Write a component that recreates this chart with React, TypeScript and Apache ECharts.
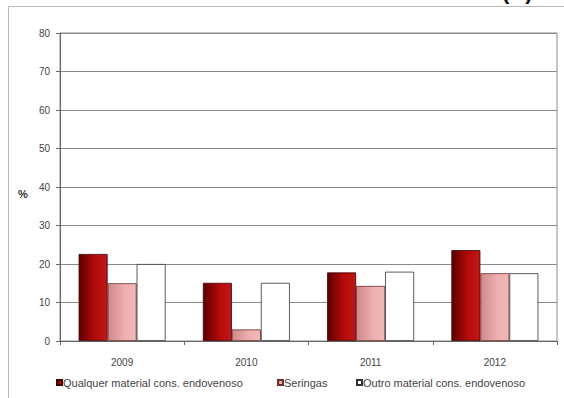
import React, { useEffect, useRef } from "react";
import * as echarts from "echarts";

const categories = ["2009", "2010", "2011", "2012"];
const seriesNames = [
  "Qualquer material cons. endovenoso",
  "Seringas",
  "Outro material cons. endovenoso",
];
const qualquer = [22.6, 15.1, 17.8, 23.6];
const seringas = [15.0, 3.0, 14.3, 17.6];
const outro = [20.0, 15.1, 18.0, 17.6];
const yTicks = { min: 0, max: 80, interval: 10 };

export default function App() {
  const ref = useRef<HTMLDivElement>(null);
  useEffect(() => {
    if (!ref.current) return;
    const chart = echarts.init(ref.current, undefined, { renderer: "svg" });
    const font = "Arial, 'Liberation Sans', sans-serif";
    const darkRed = new echarts.graphic.LinearGradient(0, 0, 1, 0, [
      { offset: 0, color: "#5a0000" },
      { offset: 0.55, color: "#b30a0a" },
      { offset: 1, color: "#c01818" },
    ]);
    const pink = new echarts.graphic.LinearGradient(0, 0, 1, 0, [
      { offset: 0, color: "#d08888" },
      { offset: 0.6, color: "#eeb0b0" },
      { offset: 1, color: "#f2b8b8" },
    ]);
    const legendLefts = [56, 277, 356];
    const legendBase = {
      top: 377,
      icon: "rect",
      itemWidth: 5,
      itemHeight: 5,
      textStyle: { fontFamily: font, fontSize: 11, color: "#444", padding: [0, 0, 0, -4] },
      padding: 0,
    };
    chart.setOption({
      animation: false,
      backgroundColor: "#ffffff",
      grid: { left: 60, right: 7, top: 33, bottom: 57, show: true, borderColor: "#8a8a8a", borderWidth: 1 },
      graphic: [
        {
          type: "rect",
          shape: { x: 8.5, y: 6.5, width: 600, height: 420 },
          style: { fill: "none", stroke: "#b8b8b8", lineWidth: 1 },
          silent: true,
          z: -1,
        },
        {
          type: "text",
          left: 18,
          top: 188,
          style: { text: "%", font: "bold 11px " + font, fill: "#333" },
        },
        {
          type: "text",
          left: 502,
          top: -20,
          style: { text: "(B)", font: "bold 22px " + font, fill: "#111" },
        },
      ],
      legend: seriesNames.map((n, i) => ({ ...legendBase, left: legendLefts[i], data: [n] })),
      xAxis: {
        type: "category",
        data: categories,
        axisLine: { lineStyle: { color: "#666" } },
        axisTick: { show: true, length: 4, lineStyle: { color: "#666" } },
        axisLabel: { fontFamily: font, fontSize: 10, color: "#444", margin: 16 },
      },
      yAxis: {
        type: "value",
        min: yTicks.min,
        max: yTicks.max,
        interval: yTicks.interval,
        axisLine: { show: true, lineStyle: { color: "#666" } },
        axisTick: { show: true, length: 4, lineStyle: { color: "#666" } },
        axisLabel: { fontFamily: font, fontSize: 10, color: "#444", margin: 10 },
        splitLine: { lineStyle: { color: "#8a8a8a" } },
      },
      series: [
        {
          name: seriesNames[0],
          type: "bar",
          data: qualquer,
          barGap: "0%",
          barCategoryGap: "30%",
          itemStyle: { color: darkRed, borderColor: "#3a0000", borderWidth: 0.8 },
        },
        {
          name: seriesNames[1],
          type: "bar",
          data: seringas,
          itemStyle: { color: pink, borderColor: "#6a3030", borderWidth: 0.8 },
        },
        {
          name: seriesNames[2],
          type: "bar",
          data: outro,
          itemStyle: { color: "#ffffff", borderColor: "#333", borderWidth: 0.8 },
        },
      ],
    });
    return () => chart.dispose();
  }, []);
  return (
    <div
      ref={ref}
      style={{ position: "absolute", left: 0, top: 0, width: 564, height: 398 }}
    />
  );
}
